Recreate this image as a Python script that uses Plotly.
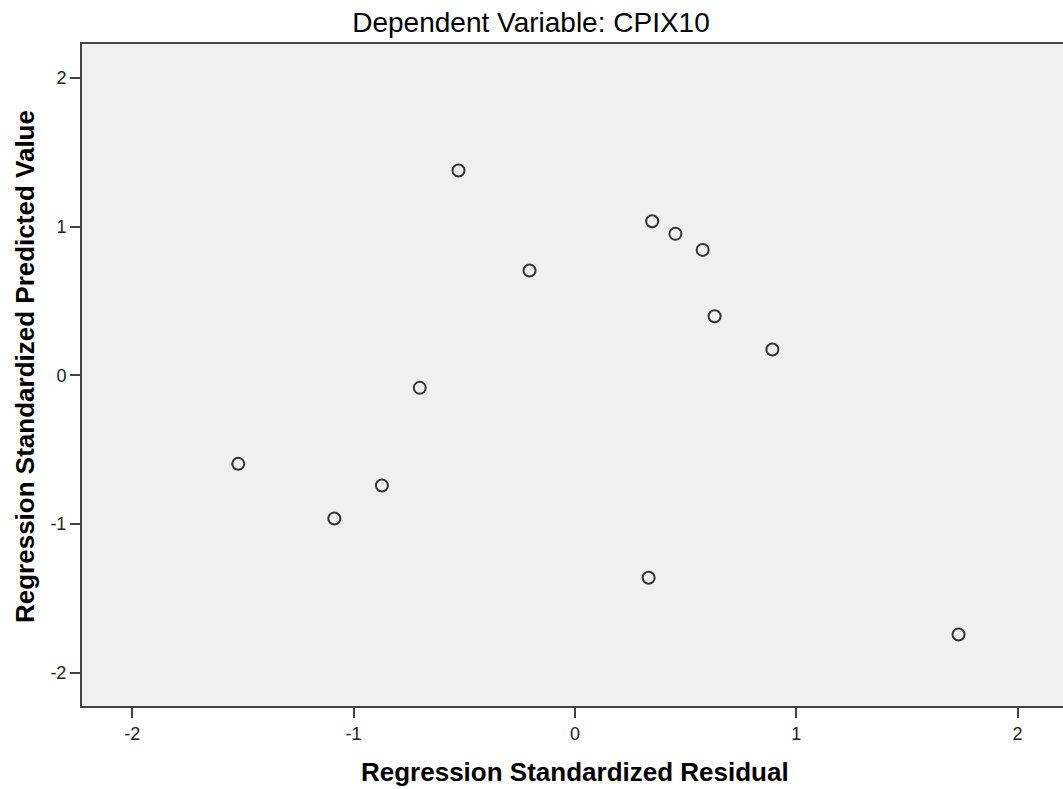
import plotly.graph_objects as go

# Data
residual = [-0.526, -0.205, 0.349, 0.454, 0.577, 0.631, 0.892, -0.701, -1.521, -0.872, -1.087, 0.333, 1.733]
predicted = [1.377, 0.704, 1.036, 0.951, 0.843, 0.397, 0.173, -0.085, -0.596, -0.742, -0.964, -1.362, -1.744]

tick_vals = [-2, -1, 0, 1, 2]
tick_text = ["-2", "-1", "0", "1", "2"]

title_text = "Dependent Variable: CPIX10"
x_title = "Regression Standardized Residual"
y_title = "Regression Standardized Predicted Value"

FONT = "Arial, Liberation Sans, sans-serif"
W, H = 1063, 789
ML, MR, MT, MB = 82, 0, 44, 83

fig = go.Figure(
    go.Scatter(
        x=residual,
        y=predicted,
        mode="markers",
        marker=dict(symbol="circle-open", size=12, color="#333333", line=dict(width=2, color="#333333")),
        showlegend=False,
        hoverinfo="x+y",
    )
)

axis_common = dict(
    showgrid=False,
    zeroline=False,
    showline=True,
    linecolor="#444444",
    linewidth=2,
    ticks="outside",
    ticklen=10,
    tickwidth=2,
    tickcolor="#444444",
    tickvals=tick_vals,
    ticktext=tick_text,
    tickfont=dict(family=FONT, size=18, color="#222222"),
)

fig.update_layout(
    width=W,
    height=H,
    margin=dict(l=ML, r=MR, t=MT, b=MB, pad=0),
    paper_bgcolor="white",
    plot_bgcolor="#F0F0F0",
    title=dict(
        text=title_text,
        font=dict(family=FONT, size=28, color="black"),
        x=531 / W,
        xref="container",
        xanchor="center",
        y=1 - 22.5 / H,
        yref="container",
        yanchor="middle",
    ),
    xaxis=dict(range=[-2.227, 2.205], mirror=True, **axis_common),
    yaxis=dict(range=[-2.225, 2.228], **axis_common),
    annotations=[
        dict(
            text="<b>" + x_title + "</b>",
            xref="paper", yref="paper",
            x=(575 - ML) / (W - ML - MR), y=-(772 - (H - MB)) / (H - MT - MB),
            xanchor="center", yanchor="middle", showarrow=False,
            font=dict(family=FONT, size=26, color="black"),
        ),
        dict(
            text="<b>" + y_title + "</b>",
            xref="paper", yref="paper",
            x=-(ML - 25) / (W - ML - MR), y=(H - MB - 367) / (H - MT - MB),
            xanchor="center", yanchor="middle", showarrow=False, textangle=-90,
            font=dict(family=FONT, size=26, color="black"),
        ),
    ],
)

fig.write_html(
    "out.html",
    config={"displayModeBar": False},
    post_script="document.body.style.margin='0';document.body.style.overflow='hidden';",
)
